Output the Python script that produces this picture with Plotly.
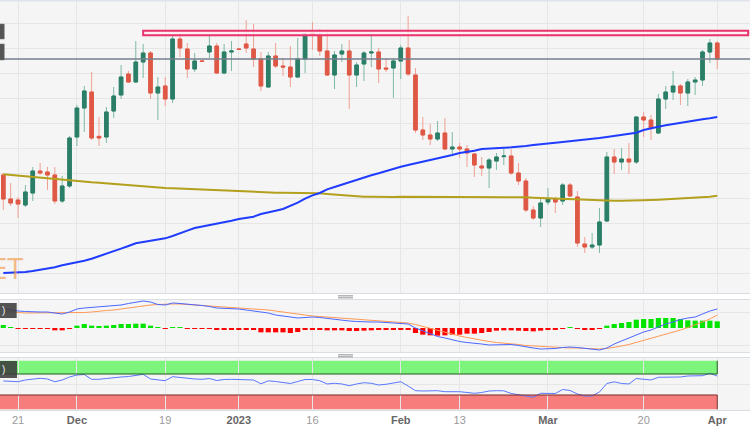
import plotly.graph_objects as go

# ---------------- data ----------------
dates = [
    "2022-11-17", "2022-11-18", "2022-11-21", "2022-11-22", "2022-11-23", "2022-11-24", "2022-11-25", "2022-11-28", "2022-11-29", "2022-11-30",
    "2022-12-01", "2022-12-02", "2022-12-05", "2022-12-06", "2022-12-07", "2022-12-08", "2022-12-09", "2022-12-12", "2022-12-13", "2022-12-14",
    "2022-12-15", "2022-12-16", "2022-12-19", "2022-12-20", "2022-12-21", "2022-12-22", "2022-12-23", "2022-12-26", "2022-12-27", "2022-12-28",
    "2022-12-29", "2022-12-30", "2023-01-02", "2023-01-03", "2023-01-04", "2023-01-05", "2023-01-06", "2023-01-09", "2023-01-10", "2023-01-11",
    "2023-01-12", "2023-01-13", "2023-01-16", "2023-01-17", "2023-01-18", "2023-01-19", "2023-01-20", "2023-01-23", "2023-01-24", "2023-01-25",
    "2023-01-26", "2023-01-27", "2023-01-30", "2023-01-31", "2023-02-01", "2023-02-02", "2023-02-03", "2023-02-06", "2023-02-07", "2023-02-08",
    "2023-02-09", "2023-02-10", "2023-02-13", "2023-02-14", "2023-02-15", "2023-02-16", "2023-02-17", "2023-02-20", "2023-02-21", "2023-02-22",
    "2023-02-23", "2023-02-24", "2023-02-27", "2023-02-28", "2023-03-01", "2023-03-02", "2023-03-03", "2023-03-06", "2023-03-07", "2023-03-08",
    "2023-03-09", "2023-03-10", "2023-03-13", "2023-03-14", "2023-03-15", "2023-03-16", "2023-03-17", "2023-03-20", "2023-03-21", "2023-03-22",
    "2023-03-23", "2023-03-24", "2023-03-27", "2023-03-28", "2023-03-29", "2023-03-30", "2023-03-31", "2023-04-03",
]

open_ = [
    1.2075, 1.2003, 1.2000, 1.1985, 1.2021, 1.2087, 1.2084, 1.2075, 1.1997, 1.2042,
    1.2189, 1.2276, 1.2324, 1.2191, 1.2189, 1.2267, 1.2315, 1.2378, 1.2354, 1.2414,
    1.2441, 1.2321, 1.2342, 1.2303, 1.2483, 1.2453, 1.2393, 1.2417, 1.2444, 1.2462,
    1.2381, 1.2444, 1.2453, 1.2468, 1.2453, 1.2423, 1.2339, 1.2432, 1.2402, 1.2399,
    1.2369, 1.2423, 1.2500, 1.2495, 1.2447, 1.2375, 1.2438, 1.2447, 1.2375, 1.2408,
    1.2441, 1.2444, 1.2396, 1.2396, 1.2417, 1.2456, 1.2375, 1.2210, 1.2195, 1.2183,
    1.2201, 1.2153, 1.2159, 1.2153, 1.2138, 1.2102, 1.2096, 1.2117, 1.2130, 1.2132,
    1.2081, 1.2057, 1.1970, 1.1946, 1.1994, 1.2003, 1.1997, 1.2045, 1.2009, 1.1868,
    1.1859, 1.1865, 1.1937, 1.2129, 1.2114, 1.2123, 1.2114, 1.2249, 1.2240, 1.2201,
    1.2303, 1.2324, 1.2342, 1.2321, 1.2354, 1.2360, 1.2444, 1.2471,
]
high = [
    1.2081, 1.2051, 1.2009, 1.2045, 1.2099, 1.2111, 1.2099, 1.2099, 1.2072, 1.2192,
    1.2285, 1.2342, 1.2384, 1.2249, 1.2279, 1.2339, 1.2405, 1.2387, 1.2477, 1.2468,
    1.2447, 1.2369, 1.2369, 1.2495, 1.2501, 1.2471, 1.2441, 1.2419, 1.2498, 1.2471,
    1.2468, 1.2477, 1.2455, 1.2540, 1.2528, 1.2444, 1.2444, 1.2471, 1.2426, 1.2462,
    1.2486, 1.2501, 1.2534, 1.2513, 1.2507, 1.2447, 1.2468, 1.2480, 1.2414, 1.2447,
    1.2501, 1.2456, 1.2426, 1.2426, 1.2465, 1.2552, 1.2396, 1.2249, 1.2228, 1.2237,
    1.2246, 1.2204, 1.2171, 1.2165, 1.2141, 1.2129, 1.2126, 1.2141, 1.2153, 1.2153,
    1.2111, 1.2066, 1.1982, 1.2006, 1.2036, 1.2009, 1.2051, 1.2051, 1.2027, 1.1889,
    1.1901, 1.1976, 1.2144, 1.2153, 1.2156, 1.2171, 1.2252, 1.2264, 1.2255, 1.2318,
    1.2342, 1.2387, 1.2348, 1.2363, 1.2369, 1.2450, 1.2483, 1.2477,
]
low = [
    1.1970, 1.1982, 1.1946, 1.1979, 1.1997, 1.2075, 1.2030, 1.1988, 1.1991, 1.2036,
    1.2162, 1.2204, 1.2180, 1.2162, 1.2171, 1.2246, 1.2303, 1.2351, 1.2351, 1.2366,
    1.2303, 1.2240, 1.2282, 1.2291, 1.2429, 1.2366, 1.2384, 1.2414, 1.2426, 1.2378,
    1.2377, 1.2387, 1.2450, 1.2441, 1.2399, 1.2327, 1.2336, 1.2396, 1.2372, 1.2339,
    1.2366, 1.2381, 1.2450, 1.2432, 1.2372, 1.2333, 1.2414, 1.2273, 1.2339, 1.2357,
    1.2399, 1.2351, 1.2384, 1.2306, 1.2363, 1.2372, 1.2201, 1.2180, 1.2165, 1.2177,
    1.2150, 1.2135, 1.2126, 1.2099, 1.2069, 1.2072, 1.2036, 1.2090, 1.2105, 1.2075,
    1.2045, 1.1964, 1.1940, 1.1919, 1.1985, 1.1961, 1.1985, 1.2009, 1.1859, 1.1841,
    1.1853, 1.1841, 1.1934, 1.2078, 1.2090, 1.2078, 1.2108, 1.2189, 1.2180, 1.2198,
    1.2273, 1.2300, 1.2285, 1.2282, 1.2315, 1.2342, 1.2411, 1.2393,
]
close = [
    1.2003, 1.1991, 1.1988, 1.2024, 1.2087, 1.2081, 1.2075, 1.1997, 1.2042, 1.2186,
    1.2276, 1.2327, 1.2186, 1.2186, 1.2264, 1.2312, 1.2369, 1.2354, 1.2414, 1.2441,
    1.2321, 1.2339, 1.2303, 1.2483, 1.2456, 1.2393, 1.2417, 1.2416, 1.2462, 1.2381,
    1.2444, 1.2447, 1.2452, 1.2456, 1.2423, 1.2342, 1.2432, 1.2402, 1.2399, 1.2369,
    1.2423, 1.2498, 1.2495, 1.2447, 1.2375, 1.2435, 1.2447, 1.2375, 1.2405, 1.2441,
    1.2444, 1.2393, 1.2393, 1.2417, 1.2456, 1.2378, 1.2210, 1.2195, 1.2183, 1.2201,
    1.2153, 1.2159, 1.2153, 1.2141, 1.2105, 1.2096, 1.2120, 1.2129, 1.2132, 1.2081,
    1.2057, 1.1970, 1.1946, 1.1991, 1.2003, 1.1994, 1.2045, 1.2012, 1.1871, 1.1859,
    1.1865, 1.1934, 1.2129, 1.2114, 1.2123, 1.2114, 1.2249, 1.2240, 1.2216, 1.2303,
    1.2324, 1.2342, 1.2321, 1.2354, 1.2360, 1.2444, 1.2471, 1.2423,
]
sma100 = [
    1.1781, 1.1782, 1.1782, 1.1784, 1.1787, 1.1790, 1.1794, 1.1798, 1.1804, 1.1808,
    1.1812, 1.1818, 1.1824, 1.1831, 1.1838, 1.1847, 1.1854, 1.1862, 1.1870, 1.1874,
    1.1878, 1.1882, 1.1885, 1.1892, 1.1901, 1.1908, 1.1916, 1.1920, 1.1925, 1.1930,
    1.1934, 1.1938, 1.1943, 1.1947, 1.1950, 1.1958, 1.1964, 1.1968, 1.1973, 1.1982,
    1.1992, 1.2004, 1.2014, 1.2021, 1.2032, 1.2039, 1.2046, 1.2054, 1.2062, 1.2068,
    1.2074, 1.2080, 1.2087, 1.2094, 1.2100, 1.2105, 1.2110, 1.2114, 1.2118, 1.2124,
    1.2129, 1.2135, 1.2141, 1.2144, 1.2148, 1.2153, 1.2155, 1.2156, 1.2157, 1.2158,
    1.2159, 1.2162, 1.2165, 1.2168, 1.2170, 1.2172, 1.2174, 1.2176, 1.2179, 1.2182,
    1.2184, 1.2186, 1.2189, 1.2192, 1.2195, 1.2199, 1.2202, 1.2210, 1.2216, 1.2220,
    1.2224, 1.2228, 1.2231, 1.2235, 1.2238, 1.2242, 1.2245, 1.2249,
]
sma200 = [
    1.2077, 1.2075, 1.2073, 1.2070, 1.2068, 1.2066, 1.2064, 1.2062, 1.2059, 1.2058,
    1.2057, 1.2055, 1.2053, 1.2052, 1.2050, 1.2048, 1.2046, 1.2044, 1.2042, 1.2040,
    1.2039, 1.2038, 1.2036, 1.2035, 1.2034, 1.2034, 1.2033, 1.2032, 1.2030, 1.2029,
    1.2028, 1.2026, 1.2025, 1.2025, 1.2025, 1.2024, 1.2023, 1.2022, 1.2022, 1.2022,
    1.2021, 1.2021, 1.2020, 1.2020, 1.2018, 1.2016, 1.2014, 1.2012, 1.2011, 1.2010,
    1.2010, 1.2009, 1.2009, 1.2009, 1.2010, 1.2010, 1.2010, 1.2010, 1.2009, 1.2009,
    1.2009, 1.2008, 1.2008, 1.2008, 1.2009, 1.2009, 1.2009, 1.2010, 1.2009, 1.2009,
    1.2008, 1.2008, 1.2007, 1.2006, 1.2005, 1.2004, 1.2003, 1.2002, 1.2001, 1.2000,
    1.1999, 1.1998, 1.1998, 1.1998, 1.1998, 1.1998, 1.1998, 1.1999, 1.2000, 1.2001,
    1.2002, 1.2003, 1.2004, 1.2006, 1.2007, 1.2009, 1.2010, 1.2013,
]
# MACD panel (pips)
macd_line = [
    58.5, 54, 51, 49.5, 48, 48, 48, 45, 42, 48,
    57, 60, 61.5, 63, 64.5, 66, 69, 73.5, 78, 81,
    78, 70.5, 69, 75, 73.5, 72, 70.5, 67.5, 64.5, 60,
    59, 58.5, 57, 54, 51, 48, 45, 39, 36, 31.5,
    30, 31.5, 33, 31.5, 28.5, 25.5, 24, 21, 19.5, 18,
    18, 18, 16.5, 15, 15, 12, 0, -9, -18, -25.5,
    -30, -36, -40.5, -43.5, -45, -48, -51, -51, -49.5, -49.5,
    -52.5, -57, -60, -63, -63, -61.5, -58.5, -57, -58.5, -61.5,
    -64.5, -66, -60, -48, -39, -30, -21, -12, -6, 3,
    12, 18, 25.5, 30, 33, 42, 51, 57,
]
signal_line = [
    51, 48, 46.5, 45, 45, 45, 45, 45, 45, 45,
    45, 46.5, 48, 51, 52.5, 54, 57, 60, 64.5, 67.5,
    69, 70.5, 72, 72, 72, 70.5, 70.5, 69, 67.5, 66,
    64.5, 63, 61.5, 60, 57, 55.5, 54, 51, 48, 45,
    42, 37.5, 36, 34.5, 33, 30, 28.5, 27, 25.5, 24,
    22.5, 21, 19.5, 18, 16.5, 15, 10.5, 4.5, -1.5, -7.5,
    -13.5, -19.5, -24, -28.5, -33, -37.5, -40.5, -43.5, -45, -46.5,
    -49.5, -52.5, -54, -55.5, -57, -58.5, -60, -60, -60, -61.5,
    -61.5, -63, -61.5, -58.5, -54, -49.5, -43.5, -37.5, -30, -24,
    -18, -12, -6, 1.5, 9, 18, 27, 39,
]
macd_hist = [
    9, 3, -1.5, -1.5, -1.5, -1.5, -1.5, -7, -7, -1.5,
    7, 12, 7, 5, 7, 9, 12, 12, 13, 13,
    7, 1.5, -1, 1.5, 1.2, -1, -1, -1.5, -2, -4.5,
    -4, -4, -4, -4.5, -5, -13, -13, -13, -13, -15,
    -12, -5, -5, -6, -7, -7, -7, -9, -9, -8,
    -7, -5, -4.5, -4, -4, -4.5, -15, -20, -22, -23,
    -22, -20, -20, -17, -17, -15, -12, -8, -7, -7,
    -8, -9, -10, -8, -6, -4, -1.5, 1, -1, -4,
    -4, -3, 7, 12, 15, 18, 25, 27, 27, 30,
    30, 30, 27, 23, 22, 22, 22, 20,
]
rsi = [
    56.7, 55.7, 55.3, 58.6, 60.5, 61.8, 60.5, 55.3, 58.6, 64.3,
    68.1, 69.0, 59.9, 59.9, 61.4, 63.3, 64.3, 65.2, 67.1, 69.4,
    60.5, 58.6, 57.2, 64.9, 63.3, 61.4, 60.5, 59.9, 61.4, 57.6,
    59.5, 59.9, 59.9, 59.9, 58.6, 51.3, 57.0, 55.7, 53.8, 51.9,
    55.7, 59.5, 59.5, 57.2, 51.0, 52.3, 51.0, 47.7, 51.0, 53.4,
    52.3, 49.0, 50.4, 52.9, 55.3, 47.1, 38.2, 37.6, 37.6, 38.2,
    36.3, 36.7, 36.3, 34.8, 33.2, 34.8, 37.6, 38.2, 38.0, 32.9,
    30.0, 27.1, 25.6, 33.2, 33.2, 32.9, 40.5, 38.6, 31.9, 28.1,
    28.1, 35.7, 51.9, 55.1, 51.9, 51.0, 61.4, 59.5, 58.6, 63.7,
    63.7, 63.7, 64.3, 66.2, 66.2, 66.8, 71.3, 66.2,
]
tick_dates = ["2022-11-21", "2022-12-01", "2022-12-19", "2023-01-02", "2023-01-16",
              "2023-02-01", "2023-02-13", "2023-03-01", "2023-03-20", "2023-04-03"]
tick_labels = ["21", "Dec", "19", "2023", "16", "Feb", "13", "Mar", "20", "Apr"]
major_labels = ["Dec", "2023", "Feb", "Mar", "Apr"]
resistance_low, resistance_high = 1.2494, 1.2508
resistance_start = "2022-12-14"
pivot_level = 1.2423
rsi_upper, rsi_lower = 70, 30

# ---------------- styling ----------------
W, H = 750, 430
PLOT_H = 410
GREEN_BODY, GREEN_WICK = "#2b7e67", "#7fb9a6"
RED_BODY, RED_WICK = "#df5846", "#efa093"
BG = "#f5f5f5"
GRID = "#e6e6e6"


def py(px):
    return (PLOT_H - px) / PLOT_H


def pxx(px):
    return px / W


fig = go.Figure()

# wicks (full range, light colours)
fig.add_trace(go.Candlestick(
    x=dates, open=open_, high=high, low=low, close=close,
    increasing=dict(line=dict(color=GREEN_WICK, width=1), fillcolor=GREEN_WICK),
    decreasing=dict(line=dict(color=RED_WICK, width=1), fillcolor=RED_WICK),
    whiskerwidth=0, showlegend=False, hoverinfo="skip", xaxis="x", yaxis="y"))
# bodies (solid colours)
body_top = [max(o, c) for o, c in zip(open_, close)]
body_bot = [min(o, c) for o, c in zip(open_, close)]
fig.add_trace(go.Candlestick(
    x=dates, open=open_, high=body_top, low=body_bot, close=close,
    increasing=dict(line=dict(color=GREEN_BODY, width=1), fillcolor=GREEN_BODY),
    decreasing=dict(line=dict(color=RED_BODY, width=1), fillcolor=RED_BODY),
    whiskerwidth=0, showlegend=False, hoverinfo="skip", xaxis="x", yaxis="y"))

fig.add_trace(go.Scatter(x=dates, y=sma200, mode="lines", line=dict(color="#b3a01c", width=2),
                         showlegend=False, hoverinfo="skip", xaxis="x", yaxis="y"))
fig.add_trace(go.Scatter(x=dates, y=sma100, mode="lines", line=dict(color="#1f3cff", width=2),
                         showlegend=False, hoverinfo="skip", xaxis="x", yaxis="y"))

# MACD panel
hist_colors = ["#00e400" if v >= 0 else "#ff0000" for v in macd_hist]
fig.add_trace(go.Bar(x=dates, y=macd_hist, marker=dict(color=hist_colors, line=dict(width=0)),
                     showlegend=False, hoverinfo="skip", xaxis="x2", yaxis="y2"))
fig.add_trace(go.Scatter(x=dates, y=signal_line, mode="lines", line=dict(color="#ff9a55", width=1),
                         showlegend=False, hoverinfo="skip", xaxis="x2", yaxis="y2"))
fig.add_trace(go.Scatter(x=dates, y=macd_line, mode="lines", line=dict(color="#4a68ff", width=1),
                         showlegend=False, hoverinfo="skip", xaxis="x2", yaxis="y2"))

# RSI panel
fig.add_trace(go.Scatter(x=dates, y=rsi, mode="lines", line=dict(color="#5a78ff", width=1),
                         showlegend=False, hoverinfo="skip", xaxis="x3", yaxis="y3"))

n = len(dates)
xr = [-0.45, 101.45]
ticktext = [f"<b><span style='color:#666'>{t}</span></b>" if t in major_labels else t for t in tick_labels]
common_x = dict(type="category", categoryorder="array", categoryarray=dates, range=xr,
                tickvals=tick_dates, showgrid=True, gridcolor=GRID, gridwidth=1,
                zeroline=False, showline=True, mirror=True, linecolor="#d9dde4", linewidth=1,
                fixedrange=True, rangeslider=dict(visible=False), ticks="")

fig.update_layout(
    width=W, height=H,
    margin=dict(l=0, r=0, t=0, b=H - PLOT_H),
    paper_bgcolor="white", plot_bgcolor=BG,
    bargap=0.3, boxmode="overlay",
    showlegend=False,
    font=dict(family="Liberation Sans, Arial, sans-serif"),
    xaxis=dict(common_x, anchor="y", showticklabels=False),
    xaxis2=dict(common_x, anchor="y2", showticklabels=False),
    xaxis3=dict(common_x, anchor="y3", showticklabels=True, ticktext=ticktext,
                tickfont=dict(size=11, color="#9a9a9a", family="Liberation Sans, Arial, sans-serif")),
    yaxis=dict(domain=[py(293), 1], range=[1.1721, 1.2600], tick0=1.2531, dtick=0.0075,
               showticklabels=False, showgrid=True, gridcolor=GRID, zeroline=False, fixedrange=True),
    yaxis2=dict(domain=[py(352), py(300)], range=[-72, 84], tickvals=[48, -51],
                showticklabels=False, showgrid=True, gridcolor=GRID, zeroline=False, fixedrange=True),
    yaxis3=dict(domain=[0, py(358)], range=[1.4, 100.5], tickvals=[50],
                showticklabels=False, showgrid=True, gridcolor=GRID, zeroline=False, fixedrange=True),
)

shapes = []
# RSI zones
last = n - 1
shapes += [
    dict(type="rect", xref="x3", yref="y3", x0=-2, x1=last, y0=rsi_upper, y1=95.3,
         fillcolor="#7df57d", line=dict(width=0), layer="below"),
    dict(type="rect", xref="x3", yref="y3", x0=-2, x1=last, y0=2.8, y1=rsi_lower,
         fillcolor="#f77c7c", line=dict(width=0), layer="below"),
    dict(type="line", xref="x3", yref="y3", x0=-2, x1=last, y0=rsi_upper, y1=rsi_upper,
         line=dict(color="#1e5a1e", width=1)),
    dict(type="line", xref="x3", yref="y3", x0=last, x1=last, y0=rsi_upper, y1=95.3,
         line=dict(color="#1e5a1e", width=1)),
    dict(type="line", xref="x3", yref="y3", x0=-2, x1=last, y0=rsi_lower, y1=rsi_lower,
         line=dict(color="#7a2a2a", width=1)),
    dict(type="line", xref="x3", yref="y3", x0=last, x1=last, y0=2.8, y1=rsi_lower,
         line=dict(color="#7a2a2a", width=1)),
]
# resistance box
i_res = dates.index(resistance_start)
shapes.append(dict(type="rect", xref="x", yref="y", x0=i_res, x1=101.2,
                   y0=resistance_low, y1=resistance_high,
                   fillcolor="rgba(255,238,243,0.8)", line=dict(color="#e8336b", width=2)))
# pivot line
shapes.append(dict(type="line", xref="paper", yref="y", x0=0, x1=1, y0=pivot_level, y1=pivot_level,
                   line=dict(color="#74808c", width=1.5)))
# cut-off price labels at left edge
shapes += [
    dict(type="rect", xref="paper", yref="paper", x0=pxx(-3), x1=pxx(4.3), y0=py(39), y1=py(24),
         fillcolor="#555555", line=dict(color="#777", width=0.5)),
    dict(type="rect", xref="paper", yref="paper", x0=pxx(-3), x1=pxx(4.3), y0=py(60), y1=py(44),
         fillcolor="#555555", line=dict(color="#777", width=0.5)),
]
# indicator label boxes
shapes += [
    dict(type="rect", xref="paper", yref="paper", x0=pxx(-3), x1=pxx(16.7), y0=py(318), y1=py(303),
         fillcolor="rgba(60,60,60,0.88)", line=dict(width=0)),
    dict(type="rect", xref="paper", yref="paper", x0=pxx(-3), x1=pxx(17), y0=py(378), y1=py(361),
         fillcolor="rgba(60,60,60,0.88)", line=dict(width=0)),
]
# top border line
shapes.append(dict(type="line", xref="paper", yref="paper", x0=0, x1=1, y0=py(0.7), y1=py(0.7),
                   line=dict(color="#dfe3ea", width=1.5)))
# pane resize handles
for yy in (295.8, 297.8, 354.8, 356.8):
    shapes.append(dict(type="line", xref="paper", yref="paper", x0=pxx(338), x1=pxx(353),
                       y0=py(yy), y1=py(yy), line=dict(color="#a8a8a8", width=1.3)))
fig.update_layout(shapes=shapes)

annotations = [
    dict(text="FXSTREET", xref="paper", yref="paper", x=pxx(25), y=py(269), xanchor="right",
         yanchor="middle", showarrow=False,
         font=dict(size=28, color="rgba(242,160,85,0.7)",
                   family="Liberation Sans Narrow, DejaVu Sans Condensed, sans-serif")),
    dict(text=")", xref="paper", yref="paper", x=pxx(0), y=py(310.5), xanchor="left",
         yanchor="middle", showarrow=False, font=dict(size=10, color="#eeeeee")),
    dict(text=")", xref="paper", yref="paper", x=pxx(0), y=py(369.5), xanchor="left",
         yanchor="middle", showarrow=False, font=dict(size=10, color="#eeeeee")),
]
fig.update_layout(annotations=annotations)

fig.write_html("out.html", config=dict(displayModeBar=False),
               post_script="document.body.style.margin='0';document.body.style.overflow='hidden';")
